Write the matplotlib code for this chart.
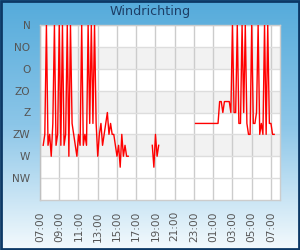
import numpy as np
import matplotlib
matplotlib.use("Agg")
import matplotlib.pyplot as plt
from matplotlib.patches import Rectangle
from matplotlib.colors import LinearSegmentedColormap

# ---- data (10-minute samples starting 07:00, None = no data) ----
title = "Windrichting"
dir_labels = ["N", "NO", "O", "ZO", "Z", "ZW", "W", "NW"]
dir_ticks = [0, 45, 90, 135, 180, 225, 270, 315]
time_labels = ["07:00", "09:00", "11:00", "13:00", "15:00", "17:00", "19:00",
               "21:00", "23:00", "01:00", "03:00", "05:00", "07:00"]

gap_a = [None] * 2
seg1 = [247.5, 225, 0, 247.5, 225, 270, 202.5, 0, 247.5, 225, 0, 247.5, 0,
        247.5, 225, 0, 270, 0, 202.5, 225, 247.5, 270, 225, 247.5, 0, 247.5,
        225, 247.5, 0, 202.5, 0, 202.5, 0, 202.5, 270, 225, 202.5, 247.5, 225,
        202.5, 180, 225, 202.5, 225, 225, 247.5, 270, 247.5, 292.5, 225, 270,
        247.5, 270, 270]
gap_b = [None] * 14
seg2 = [247.5, 292.5, 225, 270, 247.5]
gap_c = [None] * 22
seg3 = [202.5] * 15 + [157.5, 157.5, 180, 157.5, 157.5, 157.5, 157.5, 180, 0,
        180, 180, 0, 202.5, 202.5, 0, 180, 0, 202.5, 225, 225, 0, 202.5,
        202.5, 180, 0, 225, 202.5, 225, 0, 225, 0, 202.5, 202.5, 225, 225]

values = gap_a + seg1 + gap_b + seg2 + gap_c + seg3
vals = np.array([np.nan if v is None else v for v in values], dtype=float)
hours = np.arange(len(vals)) / 6.0  # hours after 07:00

# ---- figure ----
W, H = 300, 250
fig = plt.figure(figsize=(W / 100, H / 100), dpi=100)

# background gradient
bg = fig.add_axes([0, 0, 1, 1], zorder=-10)
cmap = LinearSegmentedColormap.from_list("bg", ["#55abdb", "#8cc6e8", "#f4fafd"])
grad = np.linspace(0, 1, 256).reshape(-1, 1)
bg.imshow(grad, aspect="auto", cmap=cmap, extent=[0, 1, 0, 1], origin="upper")
bg.set_xlim(0, 1)
bg.set_ylim(0, 1)
bg.axis("off")
bg.add_patch(Rectangle((0.003, 0.004), 0.994, 0.992, transform=bg.transAxes,
                       fill=False, edgecolor="#0c3865", linewidth=2.0))

fig.text(0.5, 1 - 11 / H, title, ha="center", va="center",
         fontsize=9.2, color="#1d3e66")

ax = fig.add_axes([40 / W, 50 / H, 240 / W, 175 / H])
ax.set_facecolor("white")
for lo in (45, 135, 225):
    ax.axhspan(lo, lo + 45, color="#f2f2f2", zorder=0, linewidth=0)

ax.plot(hours, vals, color="#ff0000", linewidth=1.0, zorder=3)

ax.set_ylim(360, 0)
ax.set_yticks(dir_ticks)
ax.set_yticklabels(dir_labels)
ax.set_xlim(0, 24.94)
ax.set_xticks(np.arange(0, 25, 2))
ax.set_xticklabels(time_labels, rotation=90)

ax.grid(True, axis="y", color="#dddddd", linewidth=1.0, zorder=1)
ax.grid(True, axis="x", color="#cccccc", linewidth=1.0, zorder=1)
ax.set_axisbelow(True)

ax.tick_params(axis="both", length=0, colors="#555555", labelsize=7.6)
ax.tick_params(axis="y", pad=7)
ax.tick_params(axis="x", pad=8)
for s in ax.spines.values():
    s.set_color("#cccccc")
    s.set_linewidth(1.0)
ax.spines["left"].set_color("#c0c0c0")

fig.savefig("out.png", dpi=100)
